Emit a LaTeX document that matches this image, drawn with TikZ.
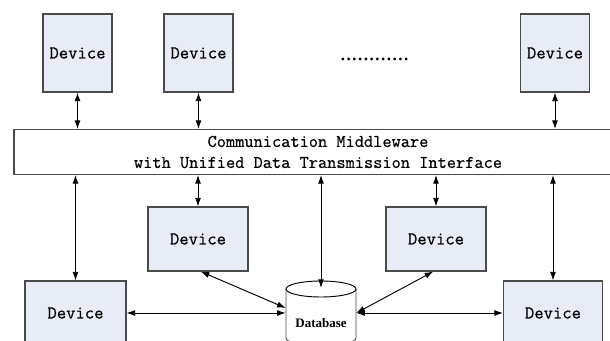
\documentclass[tikz,border=0pt]{standalone}
\usepackage{fontspec}
\setmainfont{Liberation Serif}
\setmonofont{Latin Modern Mono}[FakeBold=0.5]
\usetikzlibrary{arrows.meta}

\definecolor{devfill}{HTML}{E8ECF7}
\definecolor{boxline}{HTML}{4A4A4A}

\tikzset{
	device/.style={rectangle, draw=boxline, fill=devfill, line width=0.8pt, inner sep=0pt, font=\fontsize{13.6}{15.75}\selectfont\ttfamily},
	link/.style={<->, >={Latex[length=6.5pt,width=4.5pt]}, line width=0.7pt},
}

\begin{document}
\begin{tikzpicture}[x=0.75pt, y=-0.75pt]

	\path[use as bounding box, clip] (0,0) rectangle (610,341);

	% top row
	\node 	(d1)		at	(77.5,53) 	[device, minimum width=51.75pt, minimum height=58.5pt]{Device};
	\node 	(d2)		at	(198.5,53) 	[device, minimum width=51.75pt, minimum height=58.5pt]{Device};
	\node 	(d3)		at	(555,53) 	[device, minimum width=51.75pt, minimum height=58.5pt]{Device};

	\node 	(dots)		at	(374.5,59) 	[font=\fontsize{17.25}{18}\selectfont]{............};

	% middleware
	\node 	(mw)		at	(318,152) 	[rectangle, draw=boxline, fill=white, line width=0.8pt, minimum width=456pt, minimum height=33.75pt, align=center, font=\fontsize{13.4}{15.75}\selectfont\ttfamily]{Communication Middleware\\with Unified Data Transmission Interface};

	% lower devices
	\node 	(d4)		at	(198,239) 	[device, minimum width=75pt, minimum height=48pt]{Device};
	\node 	(d5)		at	(436,239) 	[device, minimum width=75pt, minimum height=48pt]{Device};
	\node 	(d6)		at	(75.5,313) 	[device, minimum width=75.75pt, minimum height=48pt]{Device};
	\node 	(d7)		at	(553,313) 	[device, minimum width=74.25pt, minimum height=48pt]{Device};

	% database
	\node 	(db)		at	(321,313) 	[minimum width=52.5pt, minimum height=48pt]{};
	\draw[boxline, fill=white, line width=0.7pt]	(286,289) -- (286,338) arc[start angle=180, end angle=0, x radius=35, y radius=8] -- (356,289);
	\draw[black, fill=white, line width=0.7pt]	(321,289) ellipse[x radius=35, y radius=8];
	\node 	(dbname)	at	(321,323) 	[font=\fontsize{9.75}{10}\selectfont\bfseries]{Database};
	\coordinate 	(dbtop)	at	(321,288);

	\draw[link]	(d1)	to	(d1.south |- mw.north);
	\draw[link]	(d2)	to	(d2.south |- mw.north);
	\draw[link]	(d3)	to	(d3.south |- mw.north);

	\draw[link]	(d6.north |- mw.south)	to	(d6);
	\draw[link]	(d4.north |- mw.south)	to	(d4);
	\draw[link]	(dbtop |- mw.south)	to	(dbtop);
	\draw[link]	(d5.north |- mw.south)	to	(d5);
	\draw[link]	(d7.north |- mw.south)	to	(d7);

	\draw[link]	([xshift=2pt]d4.south)	to	([yshift=3.75pt]db.west);
	\draw[link]	([xshift=-2pt]d5.south)	to	(db.east);
	\draw[link]	(d6)	to	(db.west);
	\draw[link]	(db.east)	to	(d7);

\end{tikzpicture}
\end{document}
